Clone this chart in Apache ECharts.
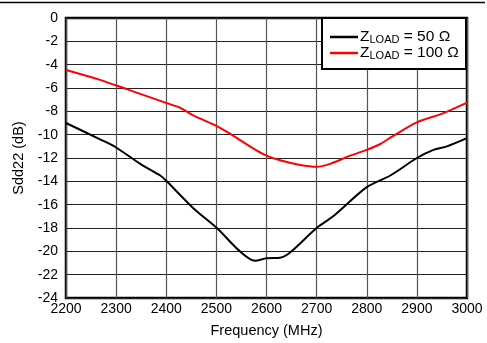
<!DOCTYPE html>
<html>
<head>
<meta charset="utf-8">
<script src="https://cdn.jsdelivr.net/npm/echarts@6/dist/echarts.min.js"></script>
<style>
  html, body { margin: 0; padding: 0; background: #fff; }
  #chart { width: 487px; height: 343px; }
</style>
</head>
<body>
<div id="chart"></div>
<script>
// Return loss Sdd22 versus frequency for two load impedances
const freq50 = [2200, 2268, 2300, 2348, 2388, 2401, 2454, 2501, 2547, 2577, 2600, 2627, 2647, 2700, 2733, 2800, 2847, 2900, 2933, 2960, 3000];
const sdd50  = [-9.0, -10.4, -11.1, -12.5, -13.5, -14.0, -16.3, -18.0, -20.0, -20.8, -20.6, -20.55, -20.1, -18.0, -17.0, -14.5, -13.5, -12.0, -11.3, -11.0, -10.3];

const freq100 = [2200, 2268, 2321, 2401, 2428, 2454, 2501, 2534, 2574, 2600, 2627, 2667, 2700, 2727, 2767, 2800, 2827, 2853, 2900, 2953, 3000];
const sdd100  = [-4.45, -5.3, -6.1, -7.3, -7.7, -8.35, -9.27, -10.1, -11.2, -11.8, -12.2, -12.6, -12.75, -12.5, -11.8, -11.3, -10.8, -10.1, -8.95, -8.15, -7.25];

const xTicks = [2200, 2300, 2400, 2500, 2600, 2700, 2800, 2900, 3000];
const yTicks = [0, -2, -4, -6, -8, -10, -12, -14, -16, -18, -20, -22, -24];

const seriesNames = ['{z|Z}{s|LOAD}{z| = 50 Ω}', '{z|Z}{s|LOAD}{z| = 100 Ω}'];
const seriesColors = ['#000000', '#ff0000'];

const pair = (xs, ys) => xs.map((x, i) => [x, ys[i]]);

const font = 'Liberation Sans, Arial, Helvetica, sans-serif';
const chart = echarts.init(document.getElementById('chart'), null, { renderer: 'canvas' });

chart.setOption({
  animation: false,
  backgroundColor: '#fff',
  grid: {
    left: 66, right: 20, top: 18, bottom: 42,
    show: true, borderColor: '#000', borderWidth: 2.5, backgroundColor: 'transparent'
  },
  xAxis: {
    type: 'value',
    min: xTicks[0], max: xTicks[xTicks.length - 1], interval: 100,
    name: 'Frequency (MHz)', nameLocation: 'middle', nameGap: 25,
    nameTextStyle: { fontFamily: font, fontSize: 14.5, color: '#000' },
    axisLine: { show: false },
    axisTick: { show: false },
    axisLabel: { fontFamily: font, fontSize: 14, color: '#000', margin: 4, formatter: v => String(v) },
    splitLine: { show: true, lineStyle: { color: '#555', width: 1.2 } }
  },
  yAxis: {
    type: 'value',
    min: yTicks[yTicks.length - 1], max: yTicks[0], interval: 2,
    name: 'Sdd22 (dB)', nameLocation: 'middle', nameGap: 36, nameRotate: 90,
    nameTextStyle: { fontFamily: font, fontSize: 14.5, color: '#000' },
    axisLine: { show: false },
    axisTick: { show: false },
    axisLabel: { fontFamily: font, fontSize: 14, color: '#000', margin: 8, formatter: v => String(v) },
    splitLine: { show: true, lineStyle: { color: '#222', width: 1 } }
  },
  legend: {
    orient: 'vertical',
    left: 330, top: 29,
    padding: 0,
    itemGap: 0,
    itemWidth: 28, itemHeight: 2.5,
    z: 10,
    data: seriesNames.map((n, i) => ({
      name: n,
      itemStyle: { color: seriesColors[i] },
      icon: 'path://M0,0L28,0L28,2.5L0,2.5Z'
    })),
    formatter: n => n,
    textStyle: {
      fontFamily: font, color: '#000', padding: [0, 0, 0, -3],
      rich: {
        z: { fontFamily: font, fontSize: 15.5, color: '#000', lineHeight: 16 },
        s: { fontFamily: font, fontSize: 11, color: '#000', lineHeight: 11, verticalAlign: 'bottom', padding: [3, 0, 0, 0] }
      }
    }
  },
  series: [
    {
      name: seriesNames[0], type: 'line', smooth: 0.3, symbol: 'none',
      lineStyle: { color: seriesColors[0], width: 2 },
      itemStyle: { color: seriesColors[0] },
      data: pair(freq50, sdd50), z: 3
    },
    {
      name: seriesNames[1], type: 'line', smooth: 0.3, symbol: 'none',
      lineStyle: { color: seriesColors[1], width: 2 },
      itemStyle: { color: seriesColors[1] },
      data: pair(freq100, sdd100), z: 3
    }
  ],
  graphic: [
    { type: 'line', shape: { x1: 0, y1: 2.5, x2: 485, y2: 2.5 }, style: { stroke: '#000', lineWidth: 1.5 }, silent: true },
    // legend frame
    { type: 'rect', z: 5, shape: { x: 322, y: 18, width: 144, height: 51 }, style: { fill: '#fff', stroke: '#000', lineWidth: 2 }, silent: true }
  ]
});
</script>
</body>
</html>
